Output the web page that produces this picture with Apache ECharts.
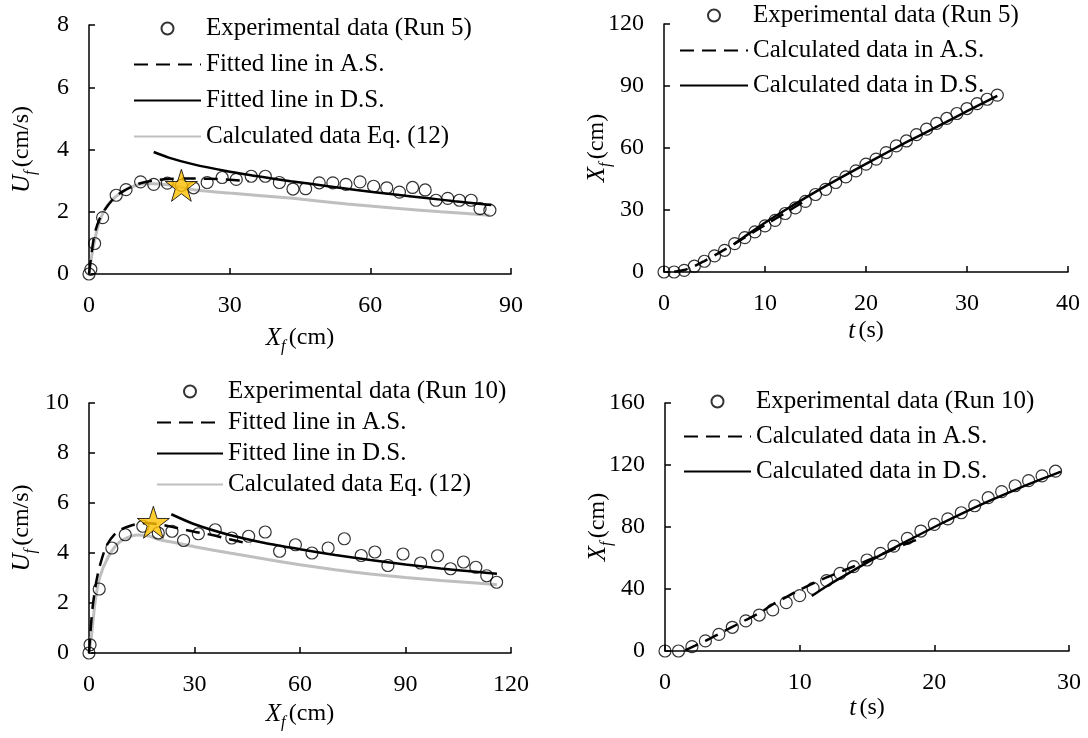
<!DOCTYPE html>
<html>
<head>
<meta charset="utf-8">
<script src="https://cdn.jsdelivr.net/npm/echarts@6/dist/echarts.min.js"></script>
<style>
  html, body { margin: 0; padding: 0; background: #fff; }
  #main { width: 1088px; height: 738px; }
</style>
</head>
<body>
<div id="main"></div>
<script>
// Run 5, front velocity vs front position
var run5X = [0, 0.4, 1.2, 2.9, 5.8, 7.9, 11.0, 13.8, 16.7, 19.7, 22.3, 25.2, 28.4, 31.4, 34.6, 37.6, 40.6, 43.5, 46.2, 49.1, 52.0, 54.8, 57.8, 60.7, 63.5, 66.2, 69.0, 71.7, 74.0, 76.5, 79.0, 81.5, 83.4, 85.5];
var run5U = [0, 0.15, 0.98, 1.81, 2.53, 2.71, 2.96, 2.88, 2.92, 2.85, 2.77, 2.94, 3.10, 3.04, 3.14, 3.14, 2.94, 2.73, 2.74, 2.93, 2.93, 2.88, 2.96, 2.82, 2.77, 2.63, 2.78, 2.70, 2.37, 2.43, 2.37, 2.37, 2.10, 2.05];
var run5AsX = [0, 0.4, 1.2, 2.2, 3.3, 5.4, 7.5, 10.6, 13.5, 17, 21, 25.6, 30, 34];
var run5AsU = [0, 0.5, 1.3, 1.75, 2.05, 2.45, 2.68, 2.9, 3.0, 3.05, 3.07, 3.06, 3.03, 2.98];
var run5DsX = [13.8, 17, 22.1, 29.2, 36.4, 43, 50.6, 57, 64.8, 71.9, 78, 85.8];
var run5DsU = [3.92, 3.74, 3.53, 3.31, 3.13, 2.98, 2.83, 2.7, 2.56, 2.44, 2.34, 2.22];
var run5EqX = [0, 0.8, 1.9, 3.7, 6.5, 10, 13.6, 17.1, 20, 22.3, 30, 43.5, 55, 64.8, 75, 85.4];
var run5EqU = [0, 0.77, 1.52, 2.16, 2.58, 2.85, 2.9, 2.86, 2.78, 2.71, 2.6, 2.43, 2.25, 2.12, 2.0, 1.89];
var peak5 = [19.7, 2.85];

// Run 5, front position vs time
var run5T = [0, 1, 2, 3, 4, 5, 6, 7, 8, 9, 10, 11, 12, 13, 14, 15, 16, 17, 18, 19, 20, 21, 22, 23, 24, 25, 26, 27, 28, 29, 30, 31, 32, 33];
var run5Xt = [0, 0, 0.8, 2.8, 5.2, 7.8, 10.5, 13.7, 16.6, 19.4, 22.3, 25.0, 28.3, 31.0, 34.2, 37.5, 40.0, 43.3, 46.0, 48.9, 52.2, 54.6, 57.8, 61.0, 63.4, 66.5, 69.1, 71.9, 74.3, 76.7, 79.1, 81.5, 83.6, 85.6];
var run5AsT = [1, 2, 3, 4, 5, 6, 8, 10, 12, 14];
var run5AsXt = [0.1, 1, 2.8, 5.3, 8, 10.8, 16.7, 22.7, 28.6, 34.5];
var run5DsT = [7, 8, 10, 12, 15, 18, 21, 24, 27, 30, 33];
var run5DsXt = [13.8, 17.2, 23.8, 30, 38.8, 47, 55, 62.8, 70.2, 77.8, 85.2];

// Run 10, front velocity vs front position
var run10X = [0, 0.3, 2.9, 6.5, 10.3, 15.3, 19.7, 23.6, 26.9, 31.1, 35.9, 40.6, 45.4, 50.1, 54.2, 58.7, 63.4, 68.0, 72.6, 77.4, 81.3, 85.0, 89.3, 94.3, 99.1, 102.8, 106.5, 110.0, 113.1, 115.9];
var run10U = [0, 0.33, 2.56, 4.2, 4.73, 5.07, 4.8, 4.87, 4.5, 4.77, 4.93, 4.6, 4.67, 4.84, 4.07, 4.33, 4.0, 4.2, 4.57, 3.9, 4.04, 3.5, 3.96, 3.6, 3.89, 3.37, 3.64, 3.43, 3.09, 2.83];
var run10AsX = [0, 0.5, 1, 2, 3, 5, 8, 12, 16, 20, 25, 30, 35, 40, 46];
var run10AsU = [0, 1.0, 1.8, 2.8, 3.45, 4.3, 4.85, 5.1, 5.2, 5.15, 5.0, 4.85, 4.72, 4.55, 4.35];
var run10DsX = [23.4, 30, 40, 50, 60, 70, 80, 90, 100, 110, 116];
var run10DsU = [5.55, 5.15, 4.72, 4.4, 4.15, 3.92, 3.72, 3.54, 3.38, 3.25, 3.17];
var run10EqX = [0, 0.8, 1.7, 3, 5.5, 8.8, 13.6, 17, 19.5, 25, 30, 40, 50, 60, 70, 80, 90, 100, 110, 116];
var run10EqU = [0, 0.8, 2.0, 3.0, 3.85, 4.45, 4.72, 4.68, 4.55, 4.4, 4.25, 4.0, 3.76, 3.53, 3.33, 3.16, 3.02, 2.9, 2.8, 2.73];
var peak10 = [18.3, 5.23];

// Run 10, front position vs time
var run10T = [0, 1, 2, 3, 4, 5, 6, 7, 8, 9, 10, 11, 12, 13, 14, 15, 16, 17, 18, 19, 20, 21, 22, 23, 24, 25, 26, 27, 28, 29];
var run10Xt = [0, 0, 2.8, 6.5, 10.7, 15.3, 19.4, 23.2, 26.5, 31.2, 35.7, 40.4, 45.4, 50.1, 54.4, 58.7, 63.0, 67.7, 72.7, 77.4, 81.7, 85.2, 89.2, 93.7, 98.9, 102.8, 106.6, 109.9, 113.0, 116.0];
var run10AsT = [1.5, 2, 3, 4, 5, 6, 7, 8, 9, 10, 12, 14, 16, 18, 19];
var run10AsXt = [0.5, 2.5, 6.5, 11, 15.5, 20, 24.5, 30, 34.8, 39.5, 47.5, 54.5, 62, 69.5, 72.7];
var run10DsT = [10.9, 12, 14, 16, 18, 20, 22, 24, 26, 28, 29.4];
var run10DsXt = [35.5, 41.8, 52, 61.8, 71, 80, 88.5, 96.5, 104, 111, 115.7];

function zip(a, b) {
  return a.map(function (v, i) { return [v, b[i]]; });
}

var FONT = 'Liberation Serif';
var STAR = 'path://M50,0L61.8,35.1L98.9,35.1L68.8,56.8L80.2,91.9L50,70.2L19.8,91.9L31.2,56.8L1.1,35.1L38.2,35.1Z';

var rich = {
  i: { fontFamily: FONT, fontSize: 25, fontStyle: 'italic', color: '#000', lineHeight: 34, verticalAlign: 'middle' },
  s: { fontFamily: FONT, fontSize: 16, fontStyle: 'italic', color: '#000', lineHeight: 34, verticalAlign: 'bottom' },
  n: { fontFamily: FONT, fontSize: 24, color: '#000', lineHeight: 34, verticalAlign: 'middle' }
};

function axis(idx, min, max, interval, name, gap) {
  return {
    gridIndex: idx,
    type: 'value',
    min: min,
    max: max,
    interval: interval,
    name: name,
    nameLocation: 'middle',
    nameGap: gap,
    nameMoveOverlap: false,
    nameTextStyle: { rich: rich },
    axisLine: { show: true, lineStyle: { color: '#000', width: 1.5 } },
    axisTick: { show: true, inside: true, length: 6, lineStyle: { color: '#000', width: 1.5 } },
    axisLabel: { color: '#000', fontFamily: FONT, fontSize: 24, margin: 20 },
    splitLine: { show: false }
  };
}

function scatter(name, idx, data) {
  return {
    name: name, type: 'scatter', xAxisIndex: idx, yAxisIndex: idx,
    data: data, symbol: 'circle', symbolSize: 12,
    itemStyle: { color: 'rgba(255,255,255,0)', borderColor: '#000', borderWidth: 1.2 },
    z: 3
  };
}

function line(name, idx, data, color, type, width) {
  return {
    name: name, type: 'line', xAxisIndex: idx, yAxisIndex: idx,
    data: data, symbol: 'none', smooth: 0.25,
    lineStyle: { color: color, type: type, width: width },
    itemStyle: { color: 'rgba(0,0,0,0)' },
    z: 2
  };
}

function star(idx, p) {
  return {
    name: 'peak', type: 'scatter', xAxisIndex: idx, yAxisIndex: idx,
    data: [p], symbol: STAR, symbolSize: 32,
    itemStyle: { color: '#FFC000', borderColor: '#000', borderWidth: 1 },
    z: 5
  };
}

// first entry is the circle marker, the rest are lines (no dot on the icon)
function legend(names, left, top, width, gap) {
  return {
    data: names.map(function (n, i) {
      return i === 0 ? { name: n } : { name: n, itemStyle: { opacity: 0 } };
    }),
    orient: 'vertical', left: left, top: top,
    itemWidth: width, itemHeight: 12, itemGap: gap,
    textStyle: { color: '#000', fontFamily: FONT, fontSize: 25, lineHeight: 24 },
    selectedMode: false
  };
}

var DASH = [14, 8];
var GRAY = '#BFBFBF';

var chart = echarts.init(document.getElementById('main'));
var option = {
  animation: false,
  backgroundColor: '#fff',
  grid: [
    { left: 89, top: 25, width: 422, height: 249 },
    { left: 89, top: 403, width: 422, height: 250 },
    { left: 664, top: 24, width: 404, height: 248 },
    { left: 665, top: 403, width: 404, height: 248 }
  ],
  xAxis: [
    axis(0, 0, 90, 30, '{i|X}{s|f} {n|(cm)}', 47),
    axis(1, 0, 120, 30, '{i|X}{s|f} {n|(cm)}', 44),
    axis(2, 0, 40, 10, '{i|t} {n|(s)}', 42),
    axis(3, 0, 30, 10, '{i|t} {n|(s)}', 40)
  ],
  yAxis: [
    axis(0, 0, 8, 2, '{i|U}{s|f} {n|(cm/s)}', 50),
    axis(1, 0, 10, 2, '{i|U}{s|f} {n|(cm/s)}', 50),
    axis(2, 0, 120, 30, '{i|X}{s|f} {n|(cm)}', 50),
    axis(3, 0, 160, 40, '{i|X}{s|f} {n|(cm)}', 50)
  ],
  legend: [
    legend(['Experimental data (Run 5)', 'Fitted line in A.S.', 'Fitted line in D.S.', 'Calculated data Eq. (12)'], 128, 11, 67, 11),
    legend(['Experimental data (Run 10)', 'Fitted line in A.S.', 'Fitted line in D.S.', 'Calculated data Eq. (12)'], 151, 374, 66, 6),
    legend(['Experimental data (Run 5)', 'Calculated data in A.S.', 'Calculated data in D.S.'], 674, -2, 68, 10),
    legend(['Experimental data (Run 10)', 'Calculated data in A.S.', 'Calculated data in D.S.'], 678, 384, 67, 10)
  ],
  series: [
    line('Calculated data Eq. (12)', 0, zip(run5EqX, run5EqU), GRAY, 'solid', 3),
    line('Fitted line in A.S.', 0, zip(run5AsX, run5AsU), '#000', DASH, 2.5),
    line('Fitted line in D.S.', 0, zip(run5DsX, run5DsU), '#000', 'solid', 2.5),
    scatter('Experimental data (Run 5)', 0, zip(run5X, run5U)),
    star(0, peak5),

    line('Calculated data Eq. (12)', 1, zip(run10EqX, run10EqU), GRAY, 'solid', 3),
    line('Fitted line in A.S.', 1, zip(run10AsX, run10AsU), '#000', DASH, 2.5),
    line('Fitted line in D.S.', 1, zip(run10DsX, run10DsU), '#000', 'solid', 2.5),
    scatter('Experimental data (Run 10)', 1, zip(run10X, run10U)),
    star(1, peak10),

    line('Calculated data in A.S.', 2, zip(run5AsT, run5AsXt), '#000', DASH, 2.5),
    line('Calculated data in D.S.', 2, zip(run5DsT, run5DsXt), '#000', 'solid', 2.5),
    scatter('Experimental data (Run 5)', 2, zip(run5T, run5Xt)),

    line('Calculated data in A.S.', 3, zip(run10AsT, run10AsXt), '#000', DASH, 2.5),
    line('Calculated data in D.S.', 3, zip(run10DsT, run10DsXt), '#000', 'solid', 2.5),
    scatter('Experimental data (Run 10)', 3, zip(run10T, run10Xt))
  ]
};
chart.setOption(option);
</script>
</body>
</html>
